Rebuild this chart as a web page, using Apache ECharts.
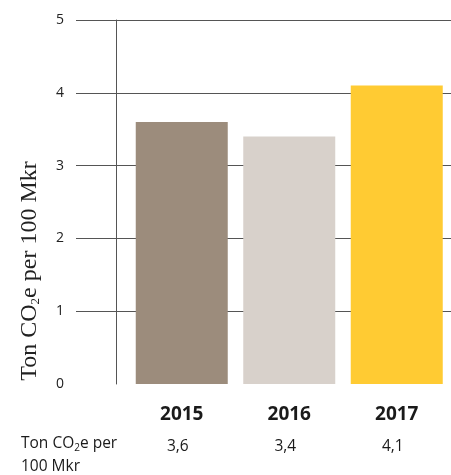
<!DOCTYPE html>
<html><head><meta charset="utf-8">
<script src="https://cdn.jsdelivr.net/npm/echarts@6/dist/echarts.min.js"></script>
<style>html,body{margin:0;padding:0;background:#fff}#c{width:451px;height:475px}</style>
</head><body><div id="c"></div>
<script>
const categories = ['2015', '2016', '2017'];
const values = [3.6, 3.4, 4.1];
const barColors = ['#9c8c7c', '#d8d1cb', '#ffcb33'];
const yTicks = [0, 1, 2, 3, 4, 5];

const chart = echarts.init(document.getElementById('c'), null, {renderer: 'canvas'});
const fmt = v => v.toFixed(1).replace('.', ',');
chart.setOption({
  animation: false,
  grid: [
    {left: 76, right: 0, top: 20, bottom: 91},
    {left: 128, width: 322.5, top: 20, bottom: 91}
  ],
  xAxis: [
    {gridIndex: 0, type: 'value', show: false, min: 0, max: 1},
    {gridIndex: 1, type: 'category', data: categories,
     axisLine: {show: false}, axisTick: {show: false},
     axisLabel: {
       margin: 16,
       formatter: (v, i) => '{y|' + v + '}\n{v|' + fmt(values[i]) + '}',
       rich: {
         y: {fontFamily: 'Open Sans', fontWeight: 'bold', fontSize: 19, color: '#1a1a1a', lineHeight: 30},
         v: {fontFamily: 'Open Sans', fontSize: 15.5, color: '#1a1a1a', lineHeight: 34, padding: [0, 8, 0, 0]}
       }
     }}
  ],
  yAxis: [
    {gridIndex: 0, type: 'value', min: yTicks[0], max: yTicks[yTicks.length - 1], interval: 1,
     axisLine: {show: false}, axisTick: {show: false},
     axisLabel: {margin: 12, fontFamily: 'Open Sans', fontSize: 14, color: '#222'},
     splitLine: {show: true, showMinLine: false, lineStyle: {color: '#555', width: 1}}},
    {gridIndex: 1, type: 'value', min: 0, max: 5, interval: 1, offset: 12,
     axisLine: {show: true, lineStyle: {color: '#555', width: 1}},
     axisTick: {show: false}, axisLabel: {show: false}, splitLine: {show: false}}
  ],
  series: [{
    type: 'bar', xAxisIndex: 1, yAxisIndex: 1,
    data: values.map((v, i) => ({value: v, itemStyle: {color: barColors[i]}})),
    barWidth: 92
  }],
  graphic: [
    {type: 'text', x: 30, y: 271, rotation: Math.PI / 2,
     style: {text: '{a|Ton CO}{s|2}{a|e per 100 Mkr}', align: 'center', verticalAlign: 'middle',
       rich: {a: {fontFamily: 'Liberation Serif', fontSize: 24, fill: '#222'},
              s: {fontFamily: 'Liberation Serif', fontSize: 13, fill: '#222', padding: [11, 0, 0, 0]}}}},
    {type: 'text', left: 21, top: 435,
     style: {text: '{a|Ton CO}{s|2}{a|e per}\n{a|100 Mkr}',
       rich: {a: {fontFamily: 'Open Sans', fontSize: 15.5, fill: '#1a1a1a', lineHeight: 23},
              s: {fontFamily: 'Open Sans', fontSize: 10, fill: '#1a1a1a', lineHeight: 23, padding: [8, 0, 0, 0]}}}}
  ]
});
</script></body></html>
